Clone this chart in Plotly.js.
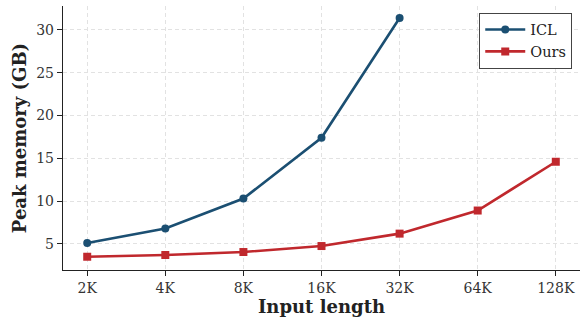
<!DOCTYPE html>
<html><head><meta charset="utf-8">
<script src="https://cdn.plot.ly/plotly-3.0.1.min.js"></script>
<style>html,body{margin:0;padding:0;background:#fff}#c{width:583px;height:320px}</style>
</head><body><div id="c"></div>
<script>
const categories = ["2K","4K","8K","16K","32K","64K","128K"];
const iclValues = [5.1, 6.8, 10.3, 17.4, 31.4];
const oursValues = [3.5, 3.7, 4.05, 4.75, 6.2, 8.9, 14.6];
const yTicks = [5,10,15,20,25,30];

const font = "DejaVu Serif, serif";
const traces = [
  {x: categories.slice(0, iclValues.length), y: iclValues, name: "ICL", type: "scatter", mode: "lines+markers",
   line: {color: "#1b4f72", width: 2.6}, marker: {symbol: "circle", size: 8, color: "#1b4f72"}},
  {x: categories, y: oursValues, name: "Ours", type: "scatter", mode: "lines+markers",
   line: {color: "#c0282d", width: 2.6}, marker: {symbol: "square", size: 8, color: "#c0282d"}}
];
const layout = {
  width: 583, height: 320,
  margin: {l: 63, r: 3, t: 6, b: 50},
  paper_bgcolor: "#fff", plot_bgcolor: "#fff",
  font: {family: font, size: 14, color: "#333"},
  showlegend: true,
  legend: {x: 0.985, y: 0.975, xanchor: "right", yanchor: "top", bordercolor: "#444", borderwidth: 1,
           bgcolor: "#fff", font: {family: font, size: 14.5, color: "#222"}, tracegroupgap: 0, itemwidth: 40},
  xaxis: {type: "category", categoryorder: "array", categoryarray: categories, range: [-0.31, 6.31],
          showline: true, linecolor: "#222", linewidth: 1.2, ticks: "outside", ticklen: 5, tickcolor: "#222",
          showgrid: true, gridcolor: "#e2e2e2", griddash: "4px,3px", gridwidth: 1, zeroline: false,
          tickfont: {family: font, size: 14, color: "#333"},
          title: {text: "<b>Input length</b>", font: {family: font, size: 18, color: "#222"}, standoff: 4}},
  yaxis: {range: [1.95, 32.8], tickvals: yTicks, ticktext: yTicks.map(String),
          showline: true, linecolor: "#222", linewidth: 1.2, ticks: "outside", ticklen: 5, tickcolor: "#222",
          showgrid: true, gridcolor: "#e2e2e2", griddash: "4px,3px", gridwidth: 1, zeroline: false,
          tickfont: {family: font, size: 14, color: "#333"},
          title: {text: "<b>Peak memory (GB)</b>", font: {family: font, size: 18, color: "#222"}, standoff: 4}}
};
Plotly.newPlot("c", traces, layout, {displayModeBar: false, staticPlot: true});
</script></body></html>
